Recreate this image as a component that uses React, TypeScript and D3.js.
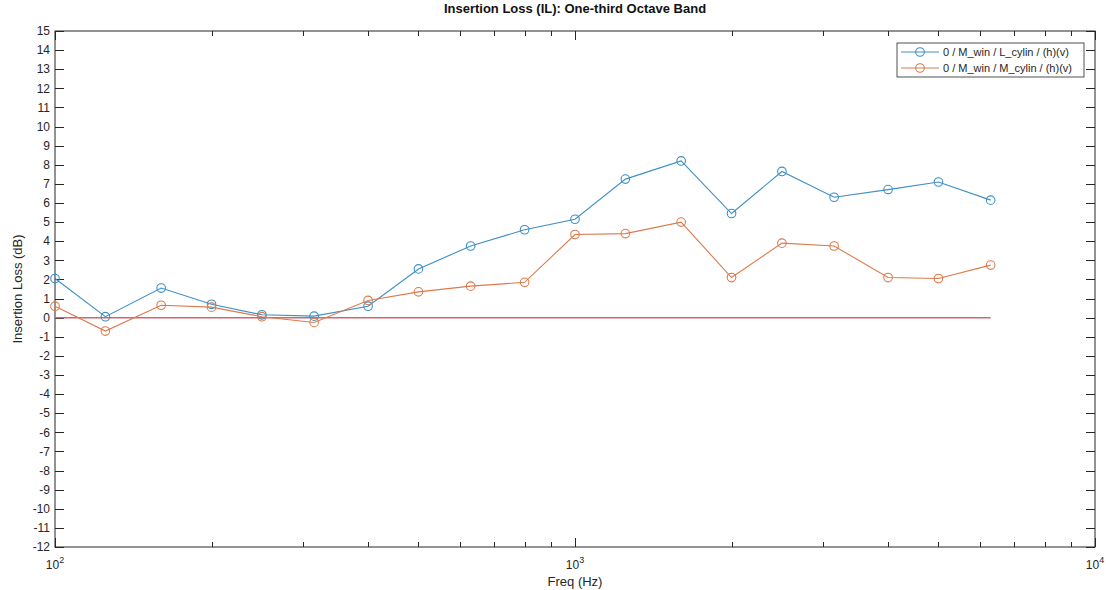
import React, { useRef, useEffect } from 'react';
import * as d3 from 'd3';

// one-third octave band centre frequencies (Hz)
const freqs = [100, 125, 160, 200, 250, 315, 400, 500, 630, 800, 1000, 1250, 1600, 2000, 2500, 3150, 4000, 5000, 6300];

const lCylin = [2.05, 0.05, 1.55, 0.7, 0.15, 0.08, 0.6, 2.55, 3.75, 4.6, 5.15, 7.25, 8.2, 5.45, 7.65, 6.3, 6.7, 7.1, 6.15];
const mCylin = [0.6, -0.7, 0.65, 0.55, 0.05, -0.25, 0.9, 1.35, 1.65, 1.85, 4.35, 4.4, 5.0, 2.1, 3.9, 3.75, 2.1, 2.05, 2.75];
const zeroLine = freqs.map(() => 0);

const seriesNames = ['0 / M_win / L_cylin / (h)(v)', '0 / M_win / M_cylin / (h)(v)'];
const seriesColors = ['#3d8fc6', '#dc7a4c'];

const yTicks = d3.range(-12, 16);
const xMajor = [100, 1000, 10000];
const xMinor = [200, 300, 400, 500, 600, 700, 800, 900, 2000, 3000, 4000, 5000, 6000, 7000, 8000, 9000];

const App = () => {
    const ref = useRef<SVGSVGElement>(null);

    useEffect(() => {
        const W = 1106, H = 590;
        const m = { left: 55, right: 1095, top: 31, bottom: 547 };
        const font = '"Liberation Sans", Arial, sans-serif';
        const axisColor = '#262626';

        const svg = d3.select(ref.current).attr('width', W).attr('height', H).style('background', 'white');
        svg.selectAll('*').remove();

        const x = d3.scaleLog().domain([100, 10000]).range([m.left, m.right]);
        const y = d3.scaleLinear().domain([-12, 15]).range([m.bottom, m.top]);

        // box
        svg.append('rect')
            .attr('x', m.left).attr('y', m.top)
            .attr('width', m.right - m.left).attr('height', m.bottom - m.top)
            .attr('fill', 'none').attr('stroke', axisColor).attr('stroke-width', 1);

        const ticks = svg.append('g').attr('stroke', axisColor).attr('stroke-width', 1);

        // y ticks both sides
        yTicks.forEach(t => {
            const yy = Math.round(y(t)) + 0.5;
            ticks.append('line').attr('x1', m.left).attr('x2', m.left + 9).attr('y1', yy).attr('y2', yy);
            ticks.append('line').attr('x1', m.right).attr('x2', m.right - 9).attr('y1', yy).attr('y2', yy);
        });
        // x ticks top and bottom
        xMajor.forEach(t => {
            const xx = Math.round(x(t)) + 0.5;
            ticks.append('line').attr('x1', xx).attr('x2', xx).attr('y1', m.bottom).attr('y2', m.bottom - 9);
            ticks.append('line').attr('x1', xx).attr('x2', xx).attr('y1', m.top).attr('y2', m.top + 9);
        });
        xMinor.forEach(t => {
            const xx = Math.round(x(t)) + 0.5;
            ticks.append('line').attr('x1', xx).attr('x2', xx).attr('y1', m.bottom).attr('y2', m.bottom - 5);
            ticks.append('line').attr('x1', xx).attr('x2', xx).attr('y1', m.top).attr('y2', m.top + 5);
        });

        // y tick labels
        svg.append('g').selectAll('text')
            .data(yTicks)
            .join('text')
            .attr('x', m.left - 5)
            .attr('y', d => y(d))
            .attr('dy', '0.35em')
            .attr('text-anchor', 'end')
            .attr('font-family', font)
            .attr('font-size', 12)
            .attr('fill', axisColor)
            .text(d => d);

        // x tick labels 10^n
        xMajor.forEach(t => {
            const txt = svg.append('text')
                .attr('x', x(t))
                .attr('y', m.bottom + 22)
                .attr('text-anchor', 'middle')
                .attr('font-family', font)
                .attr('font-size', 12)
                .attr('fill', axisColor);
            txt.append('tspan').text('10');
            txt.append('tspan').attr('dy', -6).attr('font-size', 9).text(String(Math.round(Math.log10(t))));
        });

        // axis labels + title
        svg.append('text')
            .attr('x', (m.left + m.right) / 2).attr('y', m.bottom + 39)
            .attr('text-anchor', 'middle')
            .attr('font-family', font).attr('font-size', 13).attr('fill', axisColor)
            .text('Freq (Hz)');

        svg.append('text')
            .attr('transform', `translate(22,${(m.top + m.bottom) / 2}) rotate(-90)`)
            .attr('text-anchor', 'middle')
            .attr('font-family', font).attr('font-size', 13).attr('fill', axisColor)
            .text('Insertion Loss (dB)');

        svg.append('text')
            .attr('x', (m.left + m.right) / 2).attr('y', 13)
            .attr('text-anchor', 'middle')
            .attr('font-family', font).attr('font-size', 13).attr('font-weight', 'bold').attr('fill', '#111')
            .text('Insertion Loss (IL): One-third Octave Band');

        const line = d3.line<number>().x((_, i) => x(freqs[i])).y(d => y(d));

        // zero reference
        svg.append('path')
            .attr('d', line(zeroLine))
            .attr('fill', 'none').attr('stroke', '#d2666f').attr('stroke-width', 1.5);

        [lCylin, mCylin].forEach((vals, k) => {
            const g = svg.append('g');
            g.append('path')
                .attr('d', line(vals))
                .attr('fill', 'none').attr('stroke', seriesColors[k]).attr('stroke-width', 1.1);
            g.selectAll('circle')
                .data(vals)
                .join('circle')
                .attr('cx', (_, i) => x(freqs[i]))
                .attr('cy', d => y(d))
                .attr('r', 4.3)
                .attr('fill', 'none')
                .attr('stroke', seriesColors[k])
                .attr('stroke-width', 1.1);
        });

        // legend
        const lg = svg.append('g').attr('transform', 'translate(897,43)');
        lg.append('rect').attr('width', 187).attr('height', 34)
            .attr('fill', 'white').attr('stroke', axisColor).attr('stroke-width', 0.8);
        seriesNames.forEach((name, k) => {
            const yy = 9 + k * 16;
            lg.append('line').attr('x1', 4).attr('x2', 42).attr('y1', yy).attr('y2', yy)
                .attr('stroke', seriesColors[k]).attr('stroke-width', 1.1);
            lg.append('circle').attr('cx', 23).attr('cy', yy).attr('r', 4.3)
                .attr('fill', 'none').attr('stroke', seriesColors[k]).attr('stroke-width', 1.1);
            lg.append('text').attr('x', 46).attr('y', yy).attr('dy', '0.35em')
                .attr('font-family', font).attr('font-size', 11).attr('fill', axisColor)
                .text(name);
        });
    }, []);

    return (
        <div>
            <svg ref={ref} style={{ display: 'block', position: 'absolute', left: 0, top: 0 }}></svg>
        </div>
    );
};

export default App;
